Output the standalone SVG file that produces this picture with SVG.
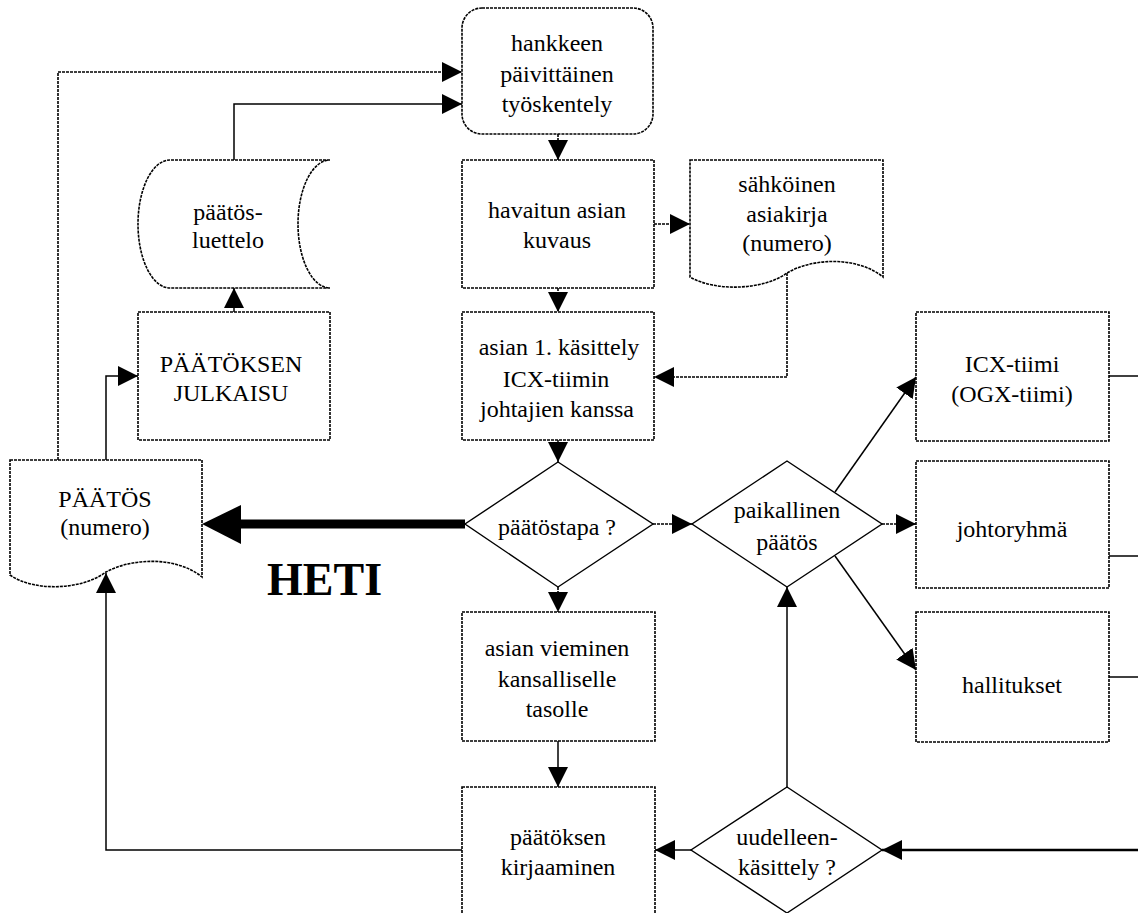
<svg xmlns="http://www.w3.org/2000/svg" width="1138" height="913" viewBox="0 0 1138 913">
  <style>
    .box { fill: #fff; stroke: #000; stroke-width: 1.6; stroke-dasharray: 3 1; }
    .dia { fill: #fff; stroke: #000; stroke-width: 1.4; }
    .lbl { font-family: "Liberation Serif", "Times New Roman", serif; font-size: 24px; fill: #000; text-anchor: middle; }
    .big { font-family: "Liberation Serif", "Times New Roman", serif; font-size: 46px; font-weight: bold; fill: #000; }
    .ln { fill: none; stroke: #000; stroke-width: 1.5; }
    .dot { fill: none; stroke: #000; stroke-width: 1.6; stroke-dasharray: 3 1; }
    .arr { marker-end: url(#ah); }
  </style>
  <defs>
    <marker id="ah" markerUnits="userSpaceOnUse" markerWidth="20" markerHeight="20" viewBox="0 0 20 20" refX="20" refY="10" orient="auto">
      <path d="M0,0 L20,10 L0,20 Z" fill="#000"/>
    </marker>
  </defs>
  <rect width="1138" height="913" fill="#fff"/>

  <g id="connectors">
    <polyline class="dot arr" points="58,460 58,72 462,72"/>
    <polyline class="ln arr" points="234,160 234,104 462,104"/>
    <polyline class="ln arr" points="234,312 234,288"/>
    <polyline class="ln arr" points="106,460 106,376 138,376"/>
    <line class="dot arr" x1="558" y1="134" x2="558" y2="160"/>
    <line class="dot arr" x1="654" y1="224" x2="690" y2="224"/>
    <line class="dot arr" x1="558" y1="288" x2="558" y2="312"/>
    <polyline class="dot arr" points="787,273 787,377 654,377"/>
    <line class="ln arr" x1="558" y1="440" x2="558" y2="462"/>
    <!-- heavy "HETI" arrow -->
    <line x1="465" y1="524" x2="240" y2="524" stroke="#000" stroke-width="9"/>
    <polygon points="202,524 241,505 241,544" fill="#000"/>
    <line class="dot arr" x1="653" y1="524" x2="692" y2="524"/>
    <line class="ln arr" x1="835" y1="492" x2="916" y2="377"/>
    <line class="dot arr" x1="882" y1="524" x2="916" y2="524"/>
    <line class="ln arr" x1="835" y1="556" x2="916" y2="670"/>
    <line class="dot arr" x1="558" y1="587" x2="558" y2="612"/>
    <line class="ln arr" x1="558" y1="741" x2="558" y2="787"/>
    <line class="ln arr" x1="691" y1="850" x2="655" y2="850"/>
    <line class="ln arr" x1="787" y1="787" x2="787" y2="587"/>
    <polyline class="ln arr" points="462,850 106,850 106,573"/>
    <line class="arr" x1="1138" y1="850" x2="882" y2="850" stroke="#000" stroke-width="2.5"/>
    <line class="ln" x1="1109" y1="376" x2="1138" y2="376"/>
    <line class="ln" x1="1109" y1="556" x2="1138" y2="556"/>
    <line class="ln" x1="1109" y1="677" x2="1138" y2="677"/>
  </g>

  <g id="hankkeen">
    <rect class="box" x="462" y="8" width="191" height="126" rx="20"/>
    <text class="lbl" x="557" y="51">hankkeen</text>
    <text class="lbl" x="557" y="82">päivittäinen</text>
    <text class="lbl" x="557" y="112">työskentely</text>
  </g>

  <g id="paatosluettelo">
    <path class="box" d="M330,160 H170 A32,64 0 0 0 170,288 H330 A32,64 0 0 1 330,160 Z"/>
    <text class="lbl" x="228" y="220">päätös-</text>
    <text class="lbl" x="228" y="248">luettelo</text>
  </g>

  <g id="julkaisu">
    <rect class="box" x="138" y="312" width="192" height="128"/>
    <text class="lbl" x="231" y="372">PÄÄTÖKSEN</text>
    <text class="lbl" x="231" y="401">JULKAISU</text>
  </g>

  <g id="paatos">
    <path class="box" d="M10,460 H202 V577 C176,556 132,558 106,572 C82,590 34,592 10,575 Z"/>
    <text class="lbl" x="105" y="507">PÄÄTÖS</text>
    <text class="lbl" x="105" y="535">(numero)</text>
  </g>

  <text class="big" x="267" y="595">HETI</text>

  <g id="havaitun">
    <rect class="box" x="462" y="160" width="192" height="128"/>
    <text class="lbl" x="557" y="218">havaitun asian</text>
    <text class="lbl" x="557" y="248">kuvaus</text>
  </g>

  <g id="sahkoinen">
    <path class="box" d="M690,160 H883 V277 C857,256 812,258 787,273 C764,290 716,292 690,277 Z"/>
    <text class="lbl" x="787" y="192">sähköinen</text>
    <text class="lbl" x="787" y="222">asiakirja</text>
    <text class="lbl" x="787" y="251">(numero)</text>
  </g>

  <g id="kasittely1">
    <rect class="box" x="462" y="312" width="192" height="128"/>
    <text class="lbl" x="559" y="355">asian 1. käsittely</text>
    <text class="lbl" x="556" y="387">ICX-tiimin</text>
    <text class="lbl" x="557" y="417">johtajien kanssa</text>
  </g>

  <g id="paatostapa">
    <polygon class="dia" points="558,462 653,524 558,587 465,524"/>
    <text class="lbl" x="557" y="535">päätöstapa ?</text>
  </g>

  <g id="paikallinen">
    <polygon class="dia" points="787,461 882,524 787,587 692,524"/>
    <text class="lbl" x="787" y="518">paikallinen</text>
    <text class="lbl" x="787" y="550">päätös</text>
  </g>

  <g id="icx">
    <rect class="box" x="916" y="312" width="193" height="129"/>
    <text class="lbl" x="1012" y="372">ICX-tiimi</text>
    <text class="lbl" x="1012" y="402">(OGX-tiimi)</text>
  </g>

  <g id="johtoryhma">
    <rect class="box" x="916" y="461" width="193" height="127"/>
    <text class="lbl" x="1012" y="537">johtoryhmä</text>
  </g>

  <g id="hallitukset">
    <rect class="box" x="916" y="612" width="193" height="130"/>
    <text class="lbl" x="1012" y="693">hallitukset</text>
  </g>

  <g id="vieminen">
    <rect class="box" x="462" y="612" width="193" height="129"/>
    <text class="lbl" x="557" y="656">asian vieminen</text>
    <text class="lbl" x="557" y="687">kansalliselle</text>
    <text class="lbl" x="557" y="717">tasolle</text>
  </g>

  <g id="kirjaaminen">
    <rect class="box" x="462" y="787" width="193" height="140"/>
    <text class="lbl" x="558" y="845">päätöksen</text>
    <text class="lbl" x="558" y="875">kirjaaminen</text>
  </g>

  <g id="uudelleen">
    <polygon class="dia" points="787,787 882,850 787,913 691,850"/>
    <text class="lbl" x="787" y="845">uudelleen-</text>
    <text class="lbl" x="787" y="875">käsittely ?</text>
  </g>
</svg>
